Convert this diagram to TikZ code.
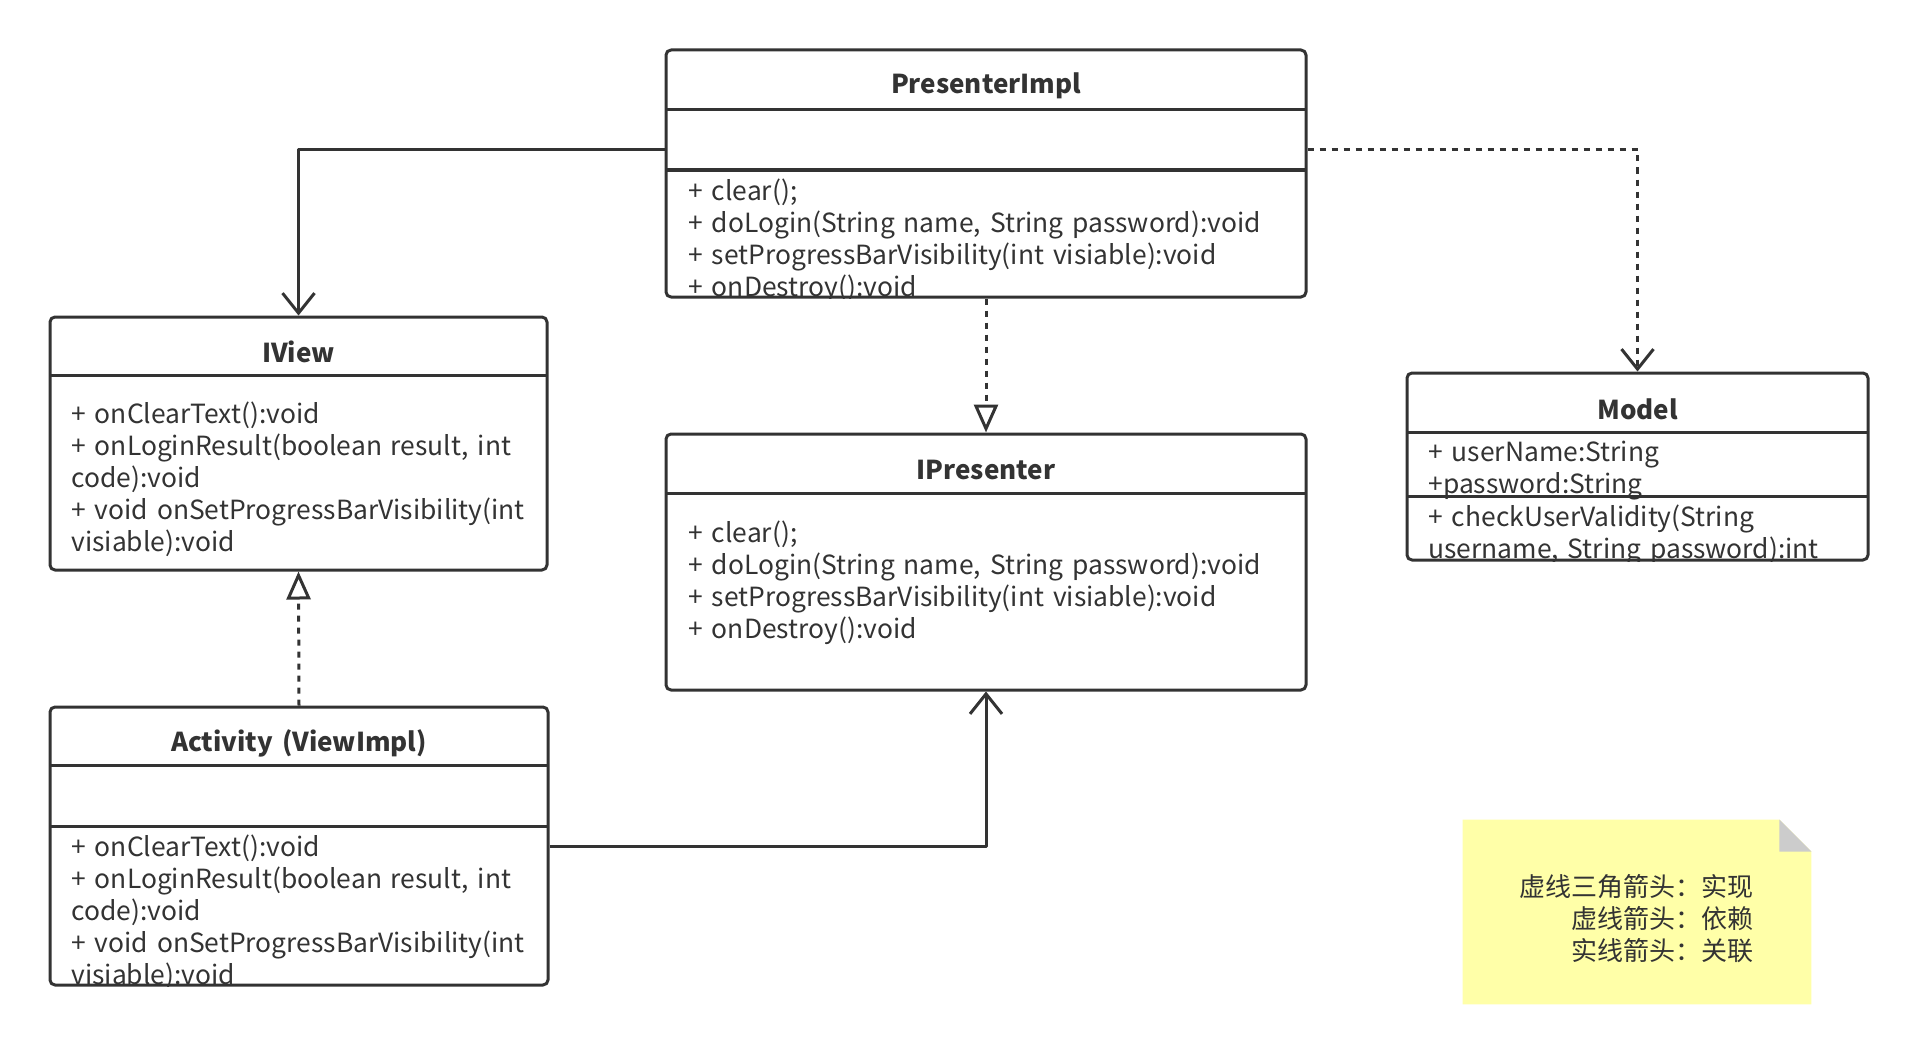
\documentclass[tikz,border=0pt]{standalone}
\usepackage{fontspec}
\setmainfont[WordSpace=1.5]{Noto Sans CJK SC}
\usetikzlibrary{arrows.meta}
\definecolor{ink}{HTML}{333333}
\definecolor{notey}{HTML}{FFFFA8}
\definecolor{fold}{HTML}{CCCCCC}
\tikzset{
	cls/.style={draw=ink, line width=1.5pt, rounded corners=2.5pt, inner sep=0pt},
	title/.style={inner sep=0pt, text=ink, font=\fontsize{13}{16}\selectfont\bfseries},
	members/.style={align=left, anchor=west, inner sep=0pt, text=ink, font=\fontsize{13.2}{16}\selectfont},
	sep/.style={draw=ink, line width=1.5pt},
	assoc/.style={draw=ink, line width=1.5pt, -{Straight Barb[length=10pt,width=16pt]}},
	depend/.style={assoc, dash pattern=on 3pt off 3pt},
	realize/.style={draw=ink, line width=1.5pt, dash pattern=on 3pt off 3pt, -{Triangle[open,length=14pt,width=12pt,fill=white]}},
}
\begin{document}
\begin{tikzpicture}[x=0.5pt, y=-0.5pt, line join=round]
	\useasboundingbox (0,0) rectangle (1917,1054);
	\node[cls, minimum width=320pt, minimum height=123.5pt] (pimpl) at (986,173.5) {};
	\node[cls, minimum width=248.5pt, minimum height=126.5pt] (iview) at (298.5,443.5) {};
	\node[cls, minimum width=320pt, minimum height=128pt] (ipres) at (986,562) {};
	\node[cls, minimum width=249pt, minimum height=139pt] (act) at (299,846) {};
	\node[cls, minimum width=230.5pt, minimum height=93.5pt] (model) at (1637.5,466.5) {};
	\node[title] (pimpl-t) at (986,86) {PresenterImpl};
	\node[title] (iview-t) at (298.5,352) {IView};
	\node[title] (ipres-t) at (986,470) {IPresenter};
	\node[title] (act-t) at (299,743) {Activity (ViewImpl)};
	\node[title] (model-t) at (1637.5,409) {Model};
	\draw[sep] (666,110) -- (1306,110) (666,170) -- (1306,170);
	\draw[sep] (50,375) -- (547,375);
	\draw[sep] (666,493) -- (1306,493);
	\draw[sep] (50,765) -- (548,765) (50,826) -- (548,826);
	\draw[sep] (1407,432) -- (1868,432);
	\begin{scope}
		\clip (pimpl.south west) rectangle (pimpl.north east);
		\node[members] (pimpl-m) at (688,241) {+ clear();\\+ doLogin(String name, String password):void\\+ setProgressBarVisibility(int visiable):void\\+ onDestroy():void};
	\end{scope}
	\node[members] (iview-m) at (71,479.5) {+ onClearText():void\\+ onLoginResult(boolean result, int\\code):void\\+ void onSetProgressBarVisibility(int\\visiable):void};
	\node[members] (ipres-m) at (688,583) {+ clear();\\+ doLogin(String name, String password):void\\+ setProgressBarVisibility(int visiable):void\\+ onDestroy():void};
	\begin{scope}
		\clip (act.south west) rectangle (act.north east);
		\node[members] (act-m) at (71,912.5) {+ onClearText():void\\+ onLoginResult(boolean result, int\\code):void\\+ void onSetProgressBarVisibility(int\\visiable):void};
	\end{scope}
	\node[members] (model-a) at (1428,471) {+ userName:String\\+password:String};
	\begin{scope}
		\clip (model.south west) rectangle (model.north east);
		\node[members] (model-m) at (1428,535) {+ checkUserValidity(String\\username, String password):int};
	\end{scope}
	\draw[sep] (1407,496) -- (1868,496);
	\draw[assoc] ([yshift=12pt]pimpl.west) -| (iview.north);
	\draw[depend] ([yshift=12pt]pimpl.east) -| (model.north);
	\draw[realize] (pimpl.south) -- (ipres.north);
	\draw[realize] (act.north) -- (iview.south);
	\draw[assoc] (act.east) -| (ipres.south);
	\node[minimum width=174pt, minimum height=92pt, inner sep=0pt] (note) at (1637,912) {};
	\fill[notey] (note.south west) |- ([xshift=-16pt]note.north east) -- ([yshift=-16pt]note.north east) -- (note.south east) -- cycle;
	\fill[fold] ([xshift=-16pt]note.north east) -- ([xshift=-16pt,yshift=-16pt]note.north east) -- ([yshift=-16pt]note.north east) -- cycle;
	\node[members, align=right, anchor=east, font=\fontsize{13}{16}\selectfont] (note-t) at (1754,919) {虚线三角箭头：实现\\虚线箭头：依赖\\实线箭头：关联};
\end{tikzpicture}
\end{document}
